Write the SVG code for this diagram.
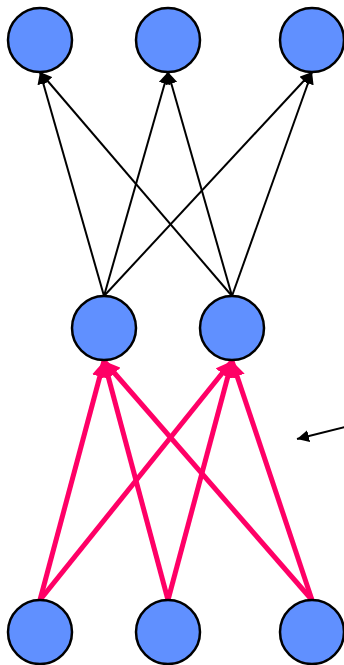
<svg xmlns="http://www.w3.org/2000/svg" width="344" height="665" viewBox="0 0 344 665">
  <style>
    .node { fill: #6090FF; stroke: #000; stroke-width: 2.5; }
    .edge { stroke: #000; stroke-width: 2; fill: none; }
    .link { stroke: #FF0066; stroke-width: 5; fill: none; }
  </style>
  <defs>
    <marker id="arrowBlack" viewBox="0 0 10 10" refX="10" refY="5" markerWidth="6" markerHeight="6" markerUnits="strokeWidth" orient="auto">
      <path d="M0,0 L10,5 L0,10 z" fill="#000"/>
    </marker>
    <marker id="arrowPink" viewBox="0 0 10 10" refX="10" refY="5" markerWidth="3.2" markerHeight="3.2" markerUnits="strokeWidth" orient="auto">
      <path d="M0,0 L10,5 L0,10 z" fill="#FF0066"/>
    </marker>
  </defs>

  <g id="connectors">
    <!-- hidden layer to output layer -->
    <line class="edge" x1="104" y1="296" x2="40" y2="72" marker-end="url(#arrowBlack)"/>
    <line class="edge" x1="104" y1="296" x2="168" y2="72" marker-end="url(#arrowBlack)"/>
    <line class="edge" x1="104" y1="296" x2="312" y2="72" marker-end="url(#arrowBlack)"/>
    <line class="edge" x1="232" y1="296" x2="40" y2="72" marker-end="url(#arrowBlack)"/>
    <line class="edge" x1="232" y1="296" x2="168" y2="72" marker-end="url(#arrowBlack)"/>
    <line class="edge" x1="232" y1="296" x2="312" y2="72" marker-end="url(#arrowBlack)"/>
    <!-- input layer to hidden layer -->
    <line class="link" x1="40" y1="600" x2="104" y2="361" marker-end="url(#arrowPink)"/>
    <line class="link" x1="168" y1="600" x2="104" y2="361" marker-end="url(#arrowPink)"/>
    <line class="link" x1="312" y1="600" x2="104" y2="361" marker-end="url(#arrowPink)"/>
    <line class="link" x1="40" y1="600" x2="232" y2="361" marker-end="url(#arrowPink)"/>
    <line class="link" x1="168" y1="600" x2="232" y2="361" marker-end="url(#arrowPink)"/>
    <line class="link" x1="312" y1="600" x2="232" y2="361" marker-end="url(#arrowPink)"/>
    <!-- pointer -->
    <line class="edge" x1="345" y1="427" x2="297" y2="439" marker-end="url(#arrowBlack)"/>
  </g>

  <g id="out1"><circle class="node" cx="40" cy="40" r="32"/></g>
  <g id="out2"><circle class="node" cx="168" cy="40" r="32"/></g>
  <g id="out3"><circle class="node" cx="312" cy="40" r="32"/></g>
  <g id="hid1"><circle class="node" cx="104" cy="328" r="32"/></g>
  <g id="hid2"><circle class="node" cx="232" cy="328" r="32"/></g>
  <g id="in1"><circle class="node" cx="40" cy="632" r="32"/></g>
  <g id="in2"><circle class="node" cx="168" cy="632" r="32"/></g>
  <g id="in3"><circle class="node" cx="312" cy="632" r="32"/></g>
</svg>
